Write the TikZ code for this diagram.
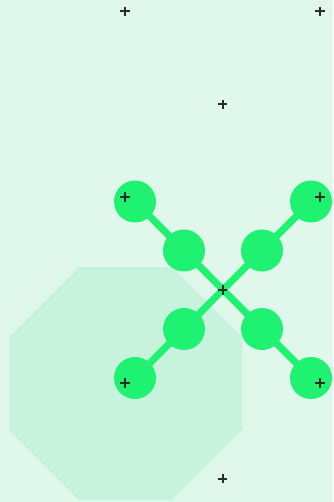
\documentclass[tikz,border=0pt]{standalone}
\begin{document}
\begin{tikzpicture}[x=1pt,y=-1pt,
  bead/.style={circle,fill=beadc,minimum size=42pt,inner sep=0pt,draw=none},
  link/.style={draw=beadc,line width=7pt},
  plusmark/.style={draw=markc,line width=2pt}]
\definecolor{bgc}{HTML}{DFF8EB}
\definecolor{octc}{HTML}{C7F3DD}
\definecolor{beadc}{HTML}{1EF270}
\definecolor{markc}{HTML}{2B2B2B}
\fill[bgc] (0,0) rectangle (333,502);
\useasboundingbox (0,0) rectangle (333,502);
\fill[octc] (79,267) -- (172,267) -- (242,337) -- (242,430) -- (172,500) -- (79,500) -- (9,430) -- (9,337) -- cycle;
\coordinate (c) at (223,290);
\coordinate (tl) at (135,201.5);
\coordinate (tr) at (311,201.5);
\coordinate (bl) at (135,378);
\coordinate (br) at (311,378);
\draw[link] (tl) -- (br);
\draw[link] (tr) -- (bl);
\node[bead] (n1) at (tl) {};
\node[bead] (n2) at (184,250.5) {};
\node[bead] (n3) at (262,250.5) {};
\node[bead] (n4) at (tr) {};
\node[bead] (n5) at (184,329) {};
\node[bead] (n6) at (262,329) {};
\node[bead] (n7) at (bl) {};
\node[bead] (n8) at (br) {};
\foreach \x/\y in {125/11.5,320/11.5,222.5/104.5,125/197,320/197,222.5/290,125/383,320/383,222.5/478.5}{
  \draw[plusmark] (\x-4.7,\y) -- (\x+4.7,\y);
  \draw[plusmark] (\x,\y-4.7) -- (\x,\y+4.7);
}
\end{tikzpicture}
\end{document}
